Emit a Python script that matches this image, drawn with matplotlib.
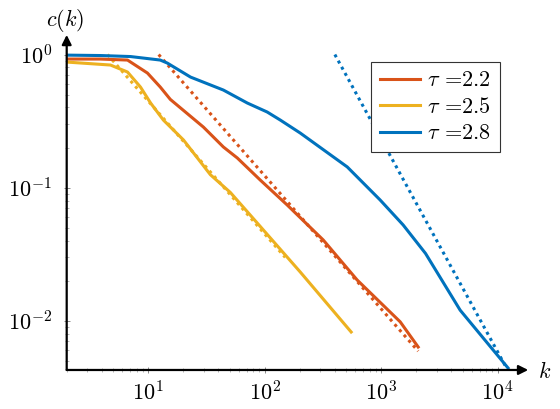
import matplotlib
matplotlib.use("Agg")
import matplotlib.pyplot as plt
import numpy as np

plt.rcParams["font.family"] = "cmr10"
plt.rcParams["mathtext.fontset"] = "cm"
plt.rcParams["axes.formatter.use_mathtext"] = True
plt.rcParams["font.size"] = 16

# tau = 2.2
k_22 = [2.0, 3.9, 6.65, 9.86, 12.7, 15.5, 29.8, 44.2, 58.2, 91.6, 156, 318, 622, 1455, 2075]
c_22 = [0.925, 0.925, 0.909, 0.726, 0.570, 0.46, 0.285, 0.202, 0.167, 0.114, 0.074,
        0.0404, 0.0202, 0.0098, 0.00634]
# tau = 2.5
k_25 = [2.0, 4.75, 6.65, 8.59, 10.5, 13.5, 20.1, 34.2, 50.7, 75.4, 145, 202, 552]
c_25 = [0.878, 0.834, 0.739, 0.570, 0.432, 0.322, 0.228, 0.125, 0.092, 0.062, 0.0323,
        0.0232, 0.00822]
# tau = 2.8
k_28 = [2.0, 3.9, 7.05, 12.7, 14.6, 23.1, 44.2, 71, 105, 136, 202, 511,
        979, 1542, 2400, 4755, 12250]
c_28 = [0.99, 0.983, 0.966, 0.909, 0.863, 0.677, 0.541, 0.432, 0.370, 0.322, 0.257,
        0.143, 0.0807, 0.0524, 0.032, 0.0120, 0.00441]

# reference power laws (dotted)
k_ref_22 = [12.3, 2075]
c_ref_22 = [1.0, 0.0059]
k_ref_25 = [4.48, 150]
c_ref_25 = [1.0, 0.0299]
k_ref_28 = [400, 12250]
c_ref_28 = [1.0, 0.0042]

labels = [r"$\tau$ =2.2", r"$\tau$ =2.5", r"$\tau$ =2.8"]
colors = ["#D95319", "#EDB120", "#0072BD"]

fig = plt.figure(figsize=(5.6, 4.09), dpi=100)
ax = fig.add_axes([0.1191, 0.0954, 0.8064, 0.797])

dot = (0, (1, 1.3))
for kr, cr, col in zip([k_ref_22, k_ref_25, k_ref_28], [c_ref_22, c_ref_25, c_ref_28], colors):
    ax.plot(kr, cr, color=col, lw=2.2, linestyle=dot, dash_capstyle="butt")

for k, c, col, lab in zip([k_22, k_25, k_28], [c_22, c_25, c_28], colors, labels):
    ax.plot(k, c, color=col, lw=2.2, label=lab)

ax.set_xscale("log")
ax.set_yscale("log")
ax.set_xlim(2, 1.5e4)
ax.set_ylim(0.00426, 1.2)

for s in ax.spines.values():
    s.set_visible(False)

ax.annotate("", xy=(1.022, 0), xytext=(0, 0), xycoords="axes fraction",
            arrowprops=dict(arrowstyle="-|>", color="black", lw=1.6, mutation_scale=14,
                            shrinkA=0, shrinkB=0))
ax.annotate("", xy=(0, 1.028), xytext=(0, 0), xycoords="axes fraction",
            arrowprops=dict(arrowstyle="-|>", color="black", lw=1.6, mutation_scale=14,
                            shrinkA=0, shrinkB=0))

ax.tick_params(which="major", direction="inout", length=5, width=0.6, color="#777777",
               labelsize=16)
ax.tick_params(which="minor", direction="inout", length=3, width=0.5, color="#999999")
ax.tick_params(axis="x", pad=5)
ax.tick_params(axis="y", pad=8)

fig.text(65.5 / 560, 1 - 20 / 409, r"$c(k)$", ha="center", va="center", fontsize=16)
fig.text(545 / 560, 1 - 371 / 409, r"$k$", ha="center", va="center", fontsize=16)

leg = ax.legend(loc="upper right", bbox_to_anchor=(500 / 560, 1 - 62 / 409),
                bbox_transform=fig.transFigure, borderaxespad=0, fancybox=False,
                framealpha=1, edgecolor="#333333", handlelength=1.8, handletextpad=0.35,
                labelspacing=0.3, borderpad=0.4, fontsize=16)
leg.get_frame().set_linewidth(0.8)

fig.savefig("out.png", dpi=100)
